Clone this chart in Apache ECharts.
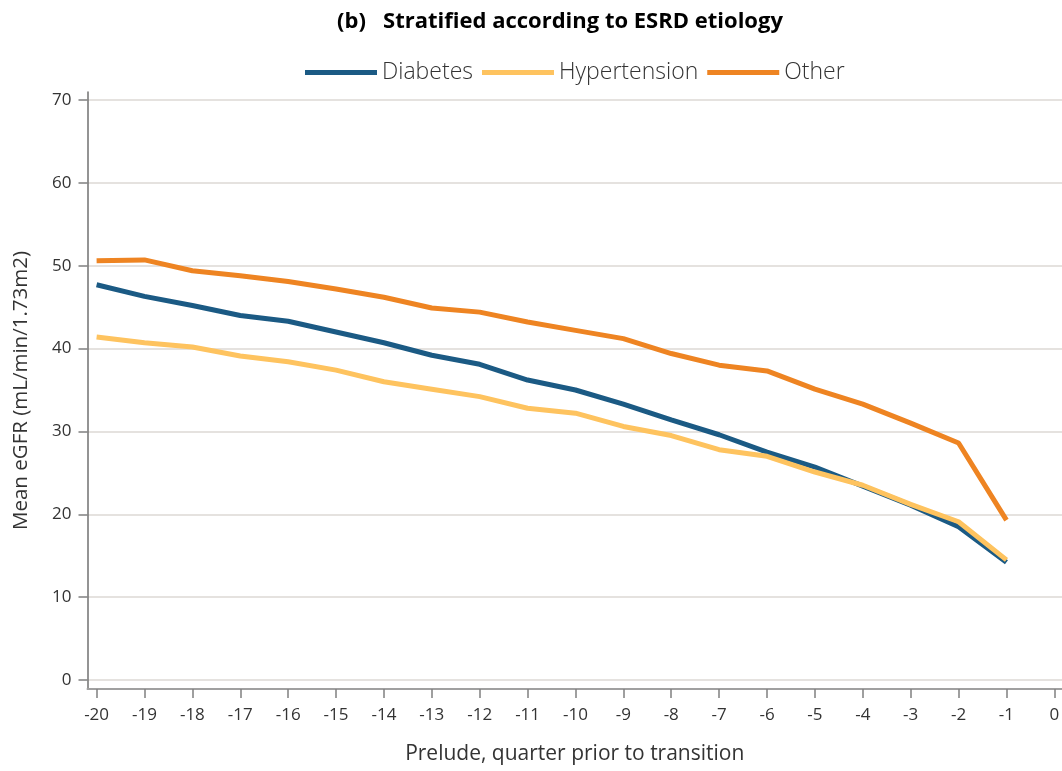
<!DOCTYPE html>
<html>
<head>
<meta charset="utf-8">
<title>Stratified according to ESRD etiology</title>
<script src="https://cdn.jsdelivr.net/npm/echarts@6/dist/echarts.min.js"></script>
<style>
  html, body { margin: 0; padding: 0; background: #ffffff; }
  #chart { width: 1062px; height: 771px; }
</style>
</head>
<body>
<div id="chart"></div>
<script>
// Quarter before transition (x) and mean eGFR per etiology group
const quarters = [-20, -19, -18, -17, -16, -15, -14, -13, -12, -11, -10, -9, -8, -7, -6, -5, -4, -3, -2, -1];
const diabetes = [47.7, 46.3, 45.2, 44.0, 43.3, 42.0, 40.7, 39.2, 38.1, 36.2, 35.0, 33.3, 31.4, 29.6, 27.5, 25.7, 23.4, 21.1, 18.5, 14.2];
const hypertension = [41.4, 40.7, 40.2, 39.1, 38.4, 37.4, 36.0, 35.1, 34.2, 32.8, 32.2, 30.6, 29.5, 27.8, 27.0, 25.1, 23.5, 21.2, 19.1, 14.5];
const other = [50.6, 50.7, 49.4, 48.8, 48.1, 47.2, 46.2, 44.9, 44.4, 43.2, 42.2, 41.2, 39.4, 38.0, 37.3, 35.1, 33.3, 31.0, 28.6, 19.3];

// Tick labels
const xTicks = [-20, -19, -18, -17, -16, -15, -14, -13, -12, -11, -10, -9, -8, -7, -6, -5, -4, -3, -2, -1, 0];
const yTicks = [0, 10, 20, 30, 40, 50, 60, 70];

const seriesNames = ['Diabetes', 'Hypertension', 'Other'];
const seriesColors = ['#1b5a84', '#fec35f', '#ee8422'];
const seriesValues = [diabetes, hypertension, other];

const pairs = vals => quarters.map((q, i) => [q, vals[i]]);

const chart = echarts.init(document.getElementById('chart'), null, { renderer: 'canvas' });

const textFont = '"Open Sans", "Noto Sans", sans-serif';

chart.setOption({
  animation: false,
  backgroundColor: '#ffffff',
  title: {
    text: '(b)   Stratified according to ESRD etiology',
    left: 555,
    textAlign: 'center',
    top: 6,
    textStyle: {
      fontFamily: textFont,
      fontWeight: 'bold',
      fontSize: 22,
      color: '#000000'
    }
  },
  legend: {
    top: 56,
    left: 300,
    itemWidth: 72,
    itemHeight: 5,
    itemGap: 9,
    icon: 'rect',
    textStyle: {
      fontFamily: textFont,
      fontSize: 23,
      fontWeight: 300,
      color: '#333333'
    },
    data: seriesNames
  },
  grid: {
    left: 87.5,
    right: 0,
    top: 92,
    bottom: 82,
    containLabel: false,
    outerBoundsMode: 'none'
  },
  xAxis: {
    type: 'value',
    min: -20.19,
    max: 0.16,
    name: 'Prelude, quarter prior to transition',
    nameLocation: 'middle',
    nameGap: 55,
    nameTextStyle: {
      fontFamily: textFont,
      fontSize: 21,
      color: '#333333'
    },
    axisLine: { show: true, onZero: false, lineStyle: { color: '#a0a0a0', width: 2 } },
    axisTick: {
      show: true,
      length: 9,
      customValues: xTicks,
      lineStyle: { color: '#808080', width: 1.5 }
    },
    axisLabel: {
      customValues: xTicks,
      margin: 18,
      fontFamily: textFont,
      fontSize: 17,
      color: '#333333',
      showMinLabel: true,
      showMaxLabel: true
    },
    splitLine: { show: false }
  },
  yAxis: {
    type: 'value',
    min: -1.09,
    max: 70.97,
    name: 'Mean eGFR (mL/min/1.73m2)',
    nameLocation: 'middle',
    nameGap: 56,
    nameRotate: 90,
    nameTextStyle: {
      fontFamily: textFont,
      fontSize: 20.5,
      color: '#333333'
    },
    axisLine: { show: true, onZero: false, lineStyle: { color: '#707070', width: 1.5 } },
    axisTick: {
      show: true,
      inside: false,
      length: 9,
      customValues: yTicks,
      lineStyle: { color: '#808080', width: 1.5 }
    },
    axisLabel: {
      customValues: yTicks,
      margin: 16,
      fontFamily: textFont,
      fontSize: 17,
      color: '#333333'
    },
    splitLine: {
      show: true,
      lineStyle: { color: '#dcd8d5', width: 1.5 }
    }
  },
  series: seriesNames.map((name, i) => ({
    name: name,
    type: 'line',
    data: pairs(seriesValues[i]),
    showSymbol: false,
    symbol: 'none',
    lineStyle: { color: seriesColors[i], width: 5 },
    itemStyle: { color: seriesColors[i] },
    z: 2 + i
  }))
});
</script>
</body>
</html>
